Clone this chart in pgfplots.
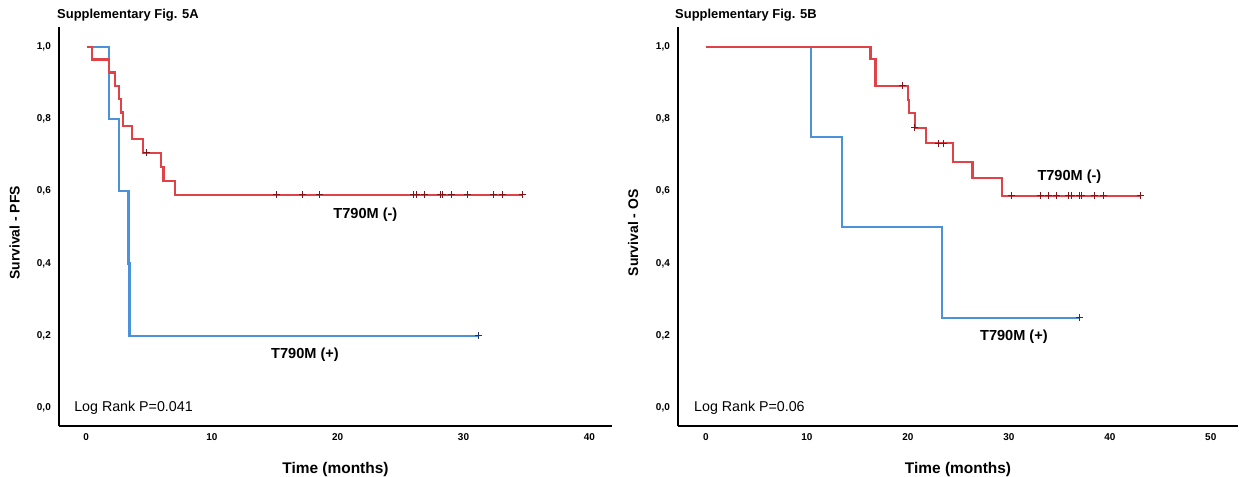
\documentclass[border=0pt]{standalone}
\usepackage{fontspec}
\setmainfont{Liberation Sans}
\usepackage{pgfplots}
\pgfplotsset{compat=1.18}
\definecolor{kmred}{RGB}{224,66,72}
\definecolor{kmblue}{RGB}{75,146,219}
\definecolor{cenred}{RGB}{130,20,25}
\definecolor{cenblue}{RGB}{30,50,110}
\pgfplotsset{
  kmaxis/.style={
    scale only axis, height=399bp, clip=false,
    ymin=-0.05, ymax=1.055,
    axis x line=bottom, axis y line=left,
    axis line style={-, line width=2bp, black},
    major tick length=0pt,
    ytick={0,0.2,0.4,0.6,0.8,1.0},
    yticklabel style={/pgf/number format/use comma, /pgf/number format/fixed, /pgf/number format/fixed zerofill, /pgf/number format/precision=1},
    /pgf/number format/assume math mode=true,
    tick label style={font=\fontsize{10}{12}\selectfont\bfseries, inner sep=0pt},
    xticklabel style={yshift=-7bp},
    yticklabel style={xshift=-8bp},
    x label style={font=\fontsize{15.5}{18}\selectfont\bfseries, at={(axis description cs:0.5,-0.11)}, anchor=center},
    y label style={font=\fontsize{14}{17}\selectfont\bfseries, at={(axis description cs:-0.08,0.484)}, anchor=center},
  },
  kmline/.style={const plot, line width=2.2bp, no marks},
  cens/.style={only marks, mark=+, mark size=3.5bp, mark options={line width=1bp}},
}
\begin{document}
\begin{tikzpicture}[x=1bp,y=1bp]
\path[use as bounding box] (0,0) rectangle (1240,477);
\node[anchor=west, inner sep=0pt, font=\fontsize{13}{15}\selectfont\bfseries] at (57,462) {Supplementary Fig. 5A};
\node[anchor=west, inner sep=0pt, font=\fontsize{13}{15}\selectfont\bfseries] at (675,462) {Supplementary Fig. 5B};
% Panel A
\begin{axis}[kmaxis, at={(59bp,51bp)}, anchor=south west, width=553bp,
  xmin=-2.15, xmax=41.8, xtick={0,10,20,30,40},
  xlabel={Time (months)}, ylabel={Survival - PFS}]
\addplot[kmline, kmblue] coordinates {(0.15,1) (1.85,0.8) (2.65,0.6) (3.37,0.4) (3.45,0.2) (31.2,0.2)};
\addplot[cens, cenblue] coordinates {(31.2,0.2)};
\addplot[kmline, kmred] coordinates {(0.1,1) (0.5,0.965) (1.85,0.929) (2.31,0.892) (2.65,0.855) (2.78,0.818) (2.92,0.781) (3.64,0.744) (4.51,0.707) (5.97,0.668) (6.15,0.629) (7.08,0.59) (34.66,0.59)};
\addplot[cens, cenred] coordinates {(4.83,0.707) (15.17,0.59) (17.2,0.59) (18.54,0.59) (26.04,0.59) (26.23,0.59) (26.89,0.59) (28.16,0.59) (28.35,0.59) (29.01,0.59) (30.33,0.59) (32.35,0.59) (33.12,0.59) (34.66,0.59)};
\node[font=\fontsize{14.6}{17}\selectfont\bfseries] at (axis cs:22.2,0.535) {T790M (-)};
\node[font=\fontsize{14.6}{17}\selectfont\bfseries] at (axis cs:17.4,0.147) {T790M (+)};
\node[anchor=west, inner sep=0pt, font=\fontsize{14.3}{17}\selectfont] at (axis cs:-0.95,0) {Log Rank P=0.041};
\end{axis}
% Panel B
\begin{axis}[kmaxis, at={(678bp,51bp)}, anchor=south west, width=560bp,
  xmin=-2.77, xmax=52.7, xtick={0,10,20,30,40,50},
  xlabel={Time (months)}, ylabel={Survival - OS}]
\addplot[kmline, kmblue] coordinates {(0,1) (10.4,0.75) (13.5,0.5) (23.4,0.25) (37.0,0.25)};
\addplot[cens, cenblue] coordinates {(37.0,0.25)};
\addplot[kmline, kmred] coordinates {(0,1) (16.3,0.966) (16.8,0.892) (20.0,0.853) (20.1,0.816) (20.7,0.776) (21.8,0.733) (24.5,0.682) (26.4,0.636) (29.3,0.587) (43.0,0.587)};
\addplot[cens, cenred] coordinates {(19.5,0.892) (20.7,0.776) (23.0,0.733) (23.5,0.733) (30.3,0.587) (33.1,0.587) (33.9,0.587) (34.7,0.587) (35.9,0.587) (36.2,0.587) (37.0,0.587) (37.2,0.587) (38.5,0.587) (39.4,0.587) (43.0,0.587)};
\node[font=\fontsize{14.6}{17}\selectfont\bfseries] at (axis cs:36.0,0.641) {T790M (-)};
\node[font=\fontsize{14.6}{17}\selectfont\bfseries] at (axis cs:30.5,0.198) {T790M (+)};
\node[anchor=west, inner sep=0pt, font=\fontsize{14.3}{17}\selectfont] at (axis cs:-1.19,0) {Log Rank P=0.06};
\end{axis}
\end{tikzpicture}
\end{document}
